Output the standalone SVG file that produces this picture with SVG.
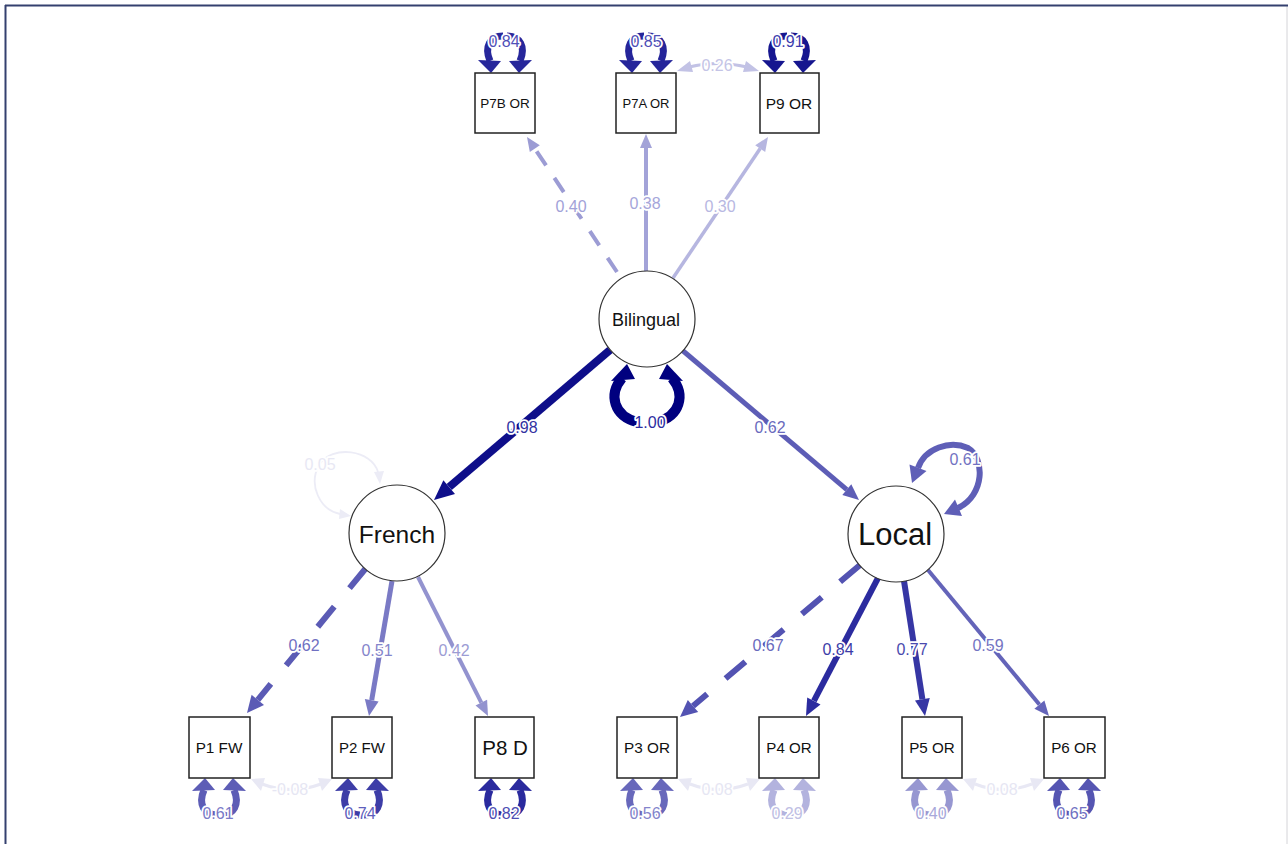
<svg xmlns="http://www.w3.org/2000/svg" xmlns:xlink="http://www.w3.org/1999/xlink" width="1288" height="844" viewBox="0 0 1288 844">
<style>
.box{fill:#fff;stroke:#222;stroke-width:1.5}
.lat{fill:#fff;stroke:#333;stroke-width:1.2}
.nt{font-family:"Liberation Sans",Arial,sans-serif;fill:#111;text-anchor:middle}
.el{font-family:"Liberation Sans",Arial,sans-serif;font-size:16px;text-anchor:middle;paint-order:stroke;stroke:#fff;stroke-width:3.5px;stroke-linejoin:round}
.ln{fill:none;stroke-linecap:butt}
</style>
<defs>
<g id="loop">
<path d="M -15,-12 C -21,-26 -15,-37 -2,-37" fill="none" stroke="currentColor" stroke-width="7"/>
<path d="M 15,-12 C 21,-26 15,-37 2,-37" fill="none" stroke="currentColor" stroke-width="7"/>
<polygon points="-14,0 -27,-13 -4,-12" fill="currentColor"/>
<polygon points="14,0 4,-12 27,-13" fill="currentColor"/>
</g>
</defs>
<rect width="1288" height="844" fill="#fff"/>
<line x1="1287" y1="5" x2="1287" y2="844" stroke="#d4d4d8" stroke-width="1"/>
<line x1="5" y1="5.5" x2="1288" y2="5.5" stroke="#34406f" stroke-width="2"/>
<line x1="5.5" y1="5" x2="5.5" y2="844" stroke="#34406f" stroke-width="2"/>

<g id="connectors">
<line class="ln" x1="617" y1="272" x2="534.8" y2="148.6" stroke="#9c9cd4" stroke-width="4" stroke-dasharray="17 15" stroke-linecap="round"/>
<polygon points="527,137 539.8,145.3 529.8,151.9" fill="#9c9cd4"/>
<line class="ln" x1="646" y1="272" x2="646" y2="148" stroke="#a3a3d8" stroke-width="4"/>
<polygon points="646,134 640,148 652,148" fill="#a3a3d8"/>
<line class="ln" x1="673" y1="278" x2="760.2" y2="148.6" stroke="#b6b6e0" stroke-width="3.5"/>
<polygon points="768,137 765.2,152 755.2,145.3" fill="#b6b6e0"/>
<line class="ln" x1="610" y1="350" x2="449.2" y2="487" stroke="#0e0e8a" stroke-width="8"/>
<polygon points="434,500 443.4,480.2 455,493.9" fill="#0e0e8a"/>
<line class="ln" x1="682" y1="350" x2="846.8" y2="489.6" stroke="#5d5db6" stroke-width="5"/>
<polygon points="859,500 842.3,494.9 851.3,484.3" fill="#5d5db6"/>
<line class="ln" x1="366" y1="568" x2="257.8" y2="699.9" stroke="#5b5bb5" stroke-width="6" stroke-dasharray="26 24" stroke-linecap="round"/>
<polygon points="247,713 251.6,694.8 264,705" fill="#5b5bb5"/>
<line class="ln" x1="392" y1="581" x2="371.7" y2="700.2" stroke="#7a7ac5" stroke-width="5"/>
<polygon points="369,716 364.8,699 378.6,701.4" fill="#7a7ac5"/>
<line class="ln" x1="418" y1="577" x2="481.3" y2="702.6" stroke="#9393cf" stroke-width="4"/>
<polygon points="488,716 475.5,705.5 487.1,699.7" fill="#9393cf"/>
<line class="ln" x1="860" y1="565" x2="693" y2="706" stroke="#5353b2" stroke-width="6" stroke-dasharray="26 24" stroke-linecap="round"/>
<polygon points="680,717 687.8,699.9 698.2,712.1" fill="#5353b2"/>
<line class="ln" x1="878" y1="578" x2="813.9" y2="700.9" stroke="#2b2b9f" stroke-width="6"/>
<polygon points="806,716 807.2,697.4 820.5,704.4" fill="#2b2b9f"/>
<line class="ln" x1="904" y1="581" x2="922.4" y2="699.2" stroke="#3636a4" stroke-width="6"/>
<polygon points="925,716 915,700.4 929.8,698" fill="#3636a4"/>
<line class="ln" x1="928" y1="570" x2="1039.4" y2="704.5" stroke="#6464b9" stroke-width="4"/>
<polygon points="1049,716 1034.4,708.7 1044.4,700.4" fill="#6464b9"/>

<path d="M 622,378 C 608,395 614,416 637,422" fill="none" stroke="#00007f" stroke-width="10"/>
<path d="M 672,378 C 686,395 680,416 657,422" fill="none" stroke="#00007f" stroke-width="10"/>
<polygon points="627,364 611,381 635,379" fill="#00007f"/>
<polygon points="667,364 659,379 683,381" fill="#00007f"/>

<path d="M 918,468 C 925,448 950,440 968,448 C 985,458 985,495 958,508" fill="none" stroke="#5f5fb7" stroke-width="6"/>
<polygon points="912,483 926.5,471 909.5,464.5" fill="#5f5fb7"/>
<polygon points="944,514 962,516 955,499.5" fill="#5f5fb7"/>

<path d="M 378,472 C 372,450 332,444 319,465 C 308,485 320,510 340,514" fill="none" stroke="#ececf6" stroke-width="1.8"/>
<polygon points="380,484 374,472 384,471" fill="#ececf6"/>
<polygon points="351,516 340,509 339,519" fill="#ececf6"/>

<use href="#loop" transform="translate(505,73)" style="color:#27279b"/>
<use href="#loop" transform="translate(646,73)" style="color:#25259a"/>
<use href="#loop" transform="translate(789,73)" style="color:#16168f"/>
<use href="#loop" transform="translate(219,778) scale(1,-1)" style="color:#5d5db6"/>
<use href="#loop" transform="translate(362,778) scale(1,-1)" style="color:#3d3da7"/>
<use href="#loop" transform="translate(505,778) scale(1,-1)" style="color:#2a2a9e"/>
<use href="#loop" transform="translate(647,778) scale(1,-1)" style="color:#6868bb"/>
<use href="#loop" transform="translate(789,778) scale(1,-1)" style="color:#b3b3de"/>
<use href="#loop" transform="translate(932,778) scale(1,-1)" style="color:#9797d1"/>
<use href="#loop" transform="translate(1074,778) scale(1,-1)" style="color:#5555b2"/>

<path d="M 689,67 Q 717,60 747,67" fill="none" stroke="#c2c2e5" stroke-width="3"/>
<polygon points="677,71 690,61 693,72" fill="#c2c2e5"/>
<polygon points="759,71 746,61 743,72" fill="#c2c2e5"/>
<path d="M 262,784 Q 291,795 321,784" fill="none" stroke="#e8e8f4" stroke-width="3"/>
<polygon points="251,779 265,778 261,791" fill="#e8e8f4"/>
<polygon points="332,779 318,778 322,791" fill="#e8e8f4"/>
<path d="M 690,784 Q 718,795 748,784" fill="none" stroke="#e8e8f4" stroke-width="3"/>
<polygon points="678,779 692,778 688,791" fill="#e8e8f4"/>
<polygon points="760,779 746,778 750,791" fill="#e8e8f4"/>
<path d="M 975,784 Q 1003,795 1032,784" fill="none" stroke="#e8e8f4" stroke-width="3"/>
<polygon points="963,779 977,778 973,791" fill="#e8e8f4"/>
<polygon points="1044,779 1030,778 1034,791" fill="#e8e8f4"/>

<text class="el" x="571" y="212" fill="#a2a2d8">0.40</text>
<text class="el" x="645" y="209" fill="#a6a6da">0.38</text>
<text class="el" x="720" y="212" fill="#b8b8e2">0.30</text>
<text class="el" x="522" y="433" fill="#3232a2">0.98</text>
<text class="el" x="770" y="433" fill="#6a6abd">0.62</text>
<text class="el" x="650" y="428" fill="#2c2ca0">1.00</text>
<text class="el" x="965" y="465" fill="#7272c2">0.61</text>
<text class="el" x="320" y="470" fill="#e8e8f4">0.05</text>
<text class="el" x="304" y="651" fill="#7070c2">0.62</text>
<text class="el" x="377" y="656" fill="#8585cb">0.51</text>
<text class="el" x="454" y="656" fill="#9c9cd4">0.42</text>
<text class="el" x="768" y="651" fill="#6a6abd">0.67</text>
<text class="el" x="838" y="655" fill="#3c3ca8">0.84</text>
<text class="el" x="912" y="655" fill="#4a4aae">0.77</text>
<text class="el" x="988" y="651" fill="#7474c3">0.59</text>
<text class="el" x="504" y="47" fill="#5050b8">0.84</text>
<text class="el" x="646" y="47" fill="#4e4eb6">0.85</text>
<text class="el" x="788" y="47" fill="#3c3cae">0.91</text>
<text class="el" x="717" y="71" fill="#c4c4e6">0.26</text>
<text class="el" x="218" y="819" fill="#7a7ac8">0.61</text>
<text class="el" x="360" y="819" fill="#5e5ebd">0.74</text>
<text class="el" x="504" y="819" fill="#4d4db3">0.82</text>
<text class="el" x="645" y="819" fill="#8484cc">0.56</text>
<text class="el" x="787" y="819" fill="#c0c0e4">0.29</text>
<text class="el" x="931" y="819" fill="#a8a8da">0.40</text>
<text class="el" x="1072" y="819" fill="#7070c2">0.65</text>
<text class="el" x="290" y="795" fill="#e6e6f3">-0.08</text>
<text class="el" x="717" y="795" fill="#e6e6f3">0.08</text>
<text class="el" x="1002" y="795" fill="#e6e6f3">0.08</text>
</g>

<g id="node-P7B"><rect class="box" x="475" y="73" width="60" height="60"/><text class="nt" x="505" y="108" font-size="13.5">P7B OR</text></g>
<g id="node-P7A"><rect class="box" x="616" y="73" width="60" height="60"/><text class="nt" x="646" y="108" font-size="13">P7A OR</text></g>
<g id="node-P9"><rect class="box" x="760" y="73" width="59" height="60"/><text class="nt" x="789" y="109" font-size="15.5">P9 OR</text></g>
<g id="node-Bilingual"><circle class="lat" cx="647" cy="319" r="48"/><text class="nt" x="646" y="326" font-size="18">Bilingual</text></g>
<g id="node-French"><circle class="lat" cx="397" cy="533" r="48"/><text class="nt" x="397" y="543" font-size="24.5">French</text></g>
<g id="node-Local"><circle class="lat" cx="896" cy="534" r="48"/><text class="nt" x="895" y="545" font-size="31">Local</text></g>
<g id="node-P1"><rect class="box" x="189" y="717" width="61" height="61"/><text class="nt" x="219" y="753" font-size="15.3">P1 FW</text></g>
<g id="node-P2"><rect class="box" x="332" y="717" width="60" height="61"/><text class="nt" x="362" y="753" font-size="15">P2 FW</text></g>
<g id="node-P8"><rect class="box" x="475" y="717" width="59" height="61"/><text class="nt" x="505" y="755" font-size="20.5">P8 D</text></g>
<g id="node-P3"><rect class="box" x="617" y="717" width="60" height="61"/><text class="nt" x="647" y="753" font-size="15.3">P3 OR</text></g>
<g id="node-P4"><rect class="box" x="759" y="717" width="60" height="61"/><text class="nt" x="789" y="753" font-size="15.1">P4 OR</text></g>
<g id="node-P5"><rect class="box" x="902" y="717" width="60" height="61"/><text class="nt" x="932" y="753" font-size="15.2">P5 OR</text></g>
<g id="node-P6"><rect class="box" x="1044" y="717" width="61" height="61"/><text class="nt" x="1074" y="753" font-size="15.2">P6 OR</text></g>
</svg>
